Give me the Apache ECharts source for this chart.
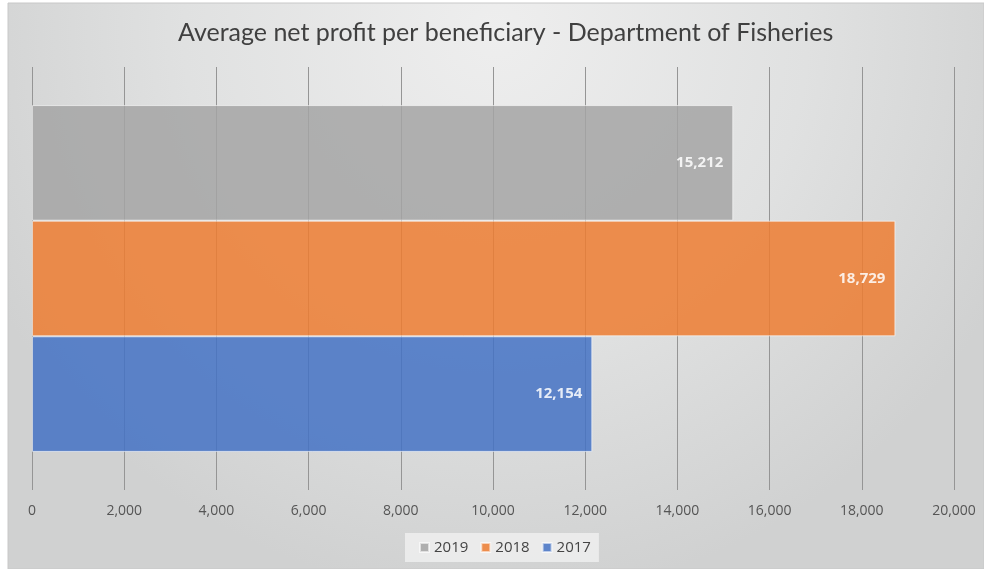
<!DOCTYPE html>
<html>
<head>
<meta charset="utf-8">
<script src="https://cdn.jsdelivr.net/npm/echarts@6/dist/echarts.min.js"></script>
<style>
  html, body { margin: 0; padding: 0; background: #ffffff; }
  #chart { width: 984px; height: 569px; }
</style>
</head>
<body>
<div id="chart"></div>
<script>
// Average net profit per beneficiary, Department of Fisheries
const titleText = 'Average net profit per beneficiary - Department of Fisheries';
const years = ['2019', '2018', '2017'];          // drawn top to bottom
const profits = [15212, 18729, 12154];
const yearColors = ['#a5a5a5', '#ed7d31', '#4472c4'];
const legendOrder = ['2019', '2018', '2017'];
const axisMin = 0, axisMax = 20000, axisStep = 2000;

const chart = echarts.init(document.getElementById('chart'), null, { renderer: 'canvas' });

const fmt = v => v.toLocaleString('en-US');

const series = years.map((y, i) => ({
  name: y,
  type: 'bar',
  data: [profits[i]],
  barGap: '0%',
  barCategoryGap: '18%',
  itemStyle: {
    color: yearColors[i],
    opacity: 0.85,
    borderColor: 'rgba(255,255,255,0.7)',
    borderWidth: 1
  },
  label: {
    show: true,
    position: 'insideRight',
    distance: 10,
    color: '#ffffff',
    fontFamily: 'Open Sans',
    fontWeight: 'bold',
    fontSize: 15,
    formatter: p => fmt(p.value)
  },
  emphasis: { disabled: true }
}));

chart.setOption({
  animation: false,
  graphic: [{
    type: 'rect',
    z: -10,
    silent: true,
    shape: { x: 8, y: 3, width: 976, height: 566 },
    style: {
      fill: {
        type: 'radial', x: 0.5, y: 0.05, r: 1.0,
        colorStops: [
          { offset: 0, color: '#eeeeee' },
          { offset: 0.55, color: '#e0e1e1' },
          { offset: 1, color: '#d0d1d1' }
        ]
      },
      stroke: '#c8c8c8',
      lineWidth: 1
    }
  }],
  title: {
    text: titleText,
    left: 173,
    top: 15,
    textStyle: {
      fontFamily: 'Lato',
      fontWeight: 'normal',
      fontSize: 25,
      color: '#404040'
    }
  },
  legend: {
    data: legendOrder,
    left: 405,
    bottom: 7,
    backgroundColor: 'rgba(238,238,238,0.85)',
    padding: [7, 8, 7, 14],
    itemWidth: 9,
    itemHeight: 9,
    itemGap: 12,
    icon: 'rect',
    textStyle: { fontFamily: 'Open Sans', fontSize: 15, color: '#444444' }
  },
  grid: { left: 32, right: 30, top: 67, bottom: 79 },
  xAxis: {
    type: 'value',
    min: axisMin,
    max: axisMax,
    interval: axisStep,
    axisLine: { show: false },
    axisTick: { show: false },
    axisLabel: {
      margin: 14,
      fontFamily: 'Open Sans',
      fontSize: 14,
      color: '#555555',
      formatter: v => fmt(v)
    },
    splitLine: { show: true, lineStyle: { color: '#959595', width: 1 } }
  },
  yAxis: {
    type: 'category',
    data: ['Department of Fisheries'],
    axisLine: { show: false },
    axisTick: { show: false },
    axisLabel: { show: false }
  },
  series: series
});
</script>
</body>
</html>
